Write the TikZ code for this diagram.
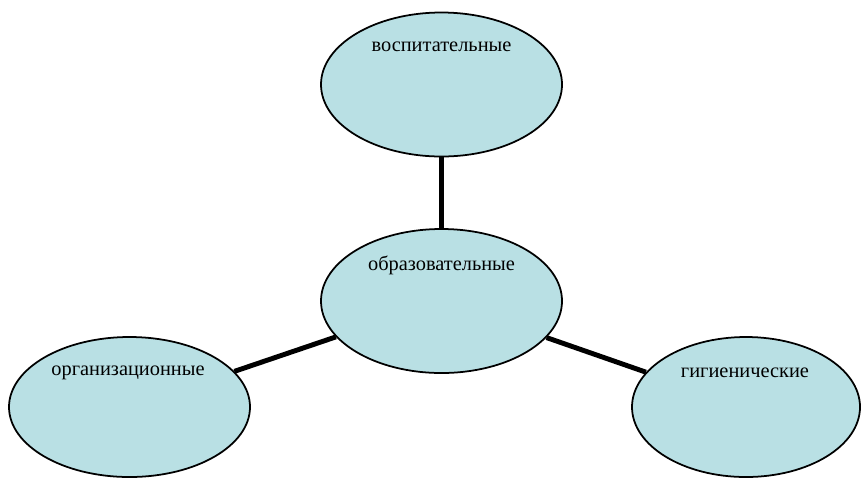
\documentclass[tikz,border=0pt]{standalone}
\usepackage{fontspec}
\setmainfont{Liberation Serif}
\usetikzlibrary{shapes.geometric}
\definecolor{blobfill}{RGB}{185,224,228}
\tikzset{
  blob/.style={ellipse,draw=black,line width=1pt,fill=blobfill,inner sep=0pt},
  bigblob/.style={blob,minimum width=241*0.02cm,minimum height=144*0.02cm},
  smallblob/.style={blob,minimum width=228*0.02cm,minimum height=140*0.02cm},
  txt/.style={font=\fontsize{11.6}{14}\selectfont,inner sep=0pt},
  link/.style={line width=2.8pt}
}
\begin{document}
\begin{tikzpicture}[x=0.02cm,y=-0.02cm]
\useasboundingbox (0,0) rectangle (861,478);
\node[bigblob] (V) at (441.5,84.5) {};
\node[bigblob] (O) at (441.5,301) {};
\node[blob,minimum width=241*0.02cm,minimum height=140*0.02cm] (Org) at (129.5,407) {};
\node[smallblob] (G) at (746,407) {};

\node[txt] (Vt) at (441.5,47) {воспитательные};
\node[txt] (Ot) at (441.5,265) {образовательные};
\node[txt] (Orgt) at (128,373) {организационные};
\node[txt] (Gt) at (745,373) {гигиенические};

\draw[link] (V) -- (O);
\draw[link] (Org) -- (O);
\draw[link] (G) -- (O);
\end{tikzpicture}
\end{document}
